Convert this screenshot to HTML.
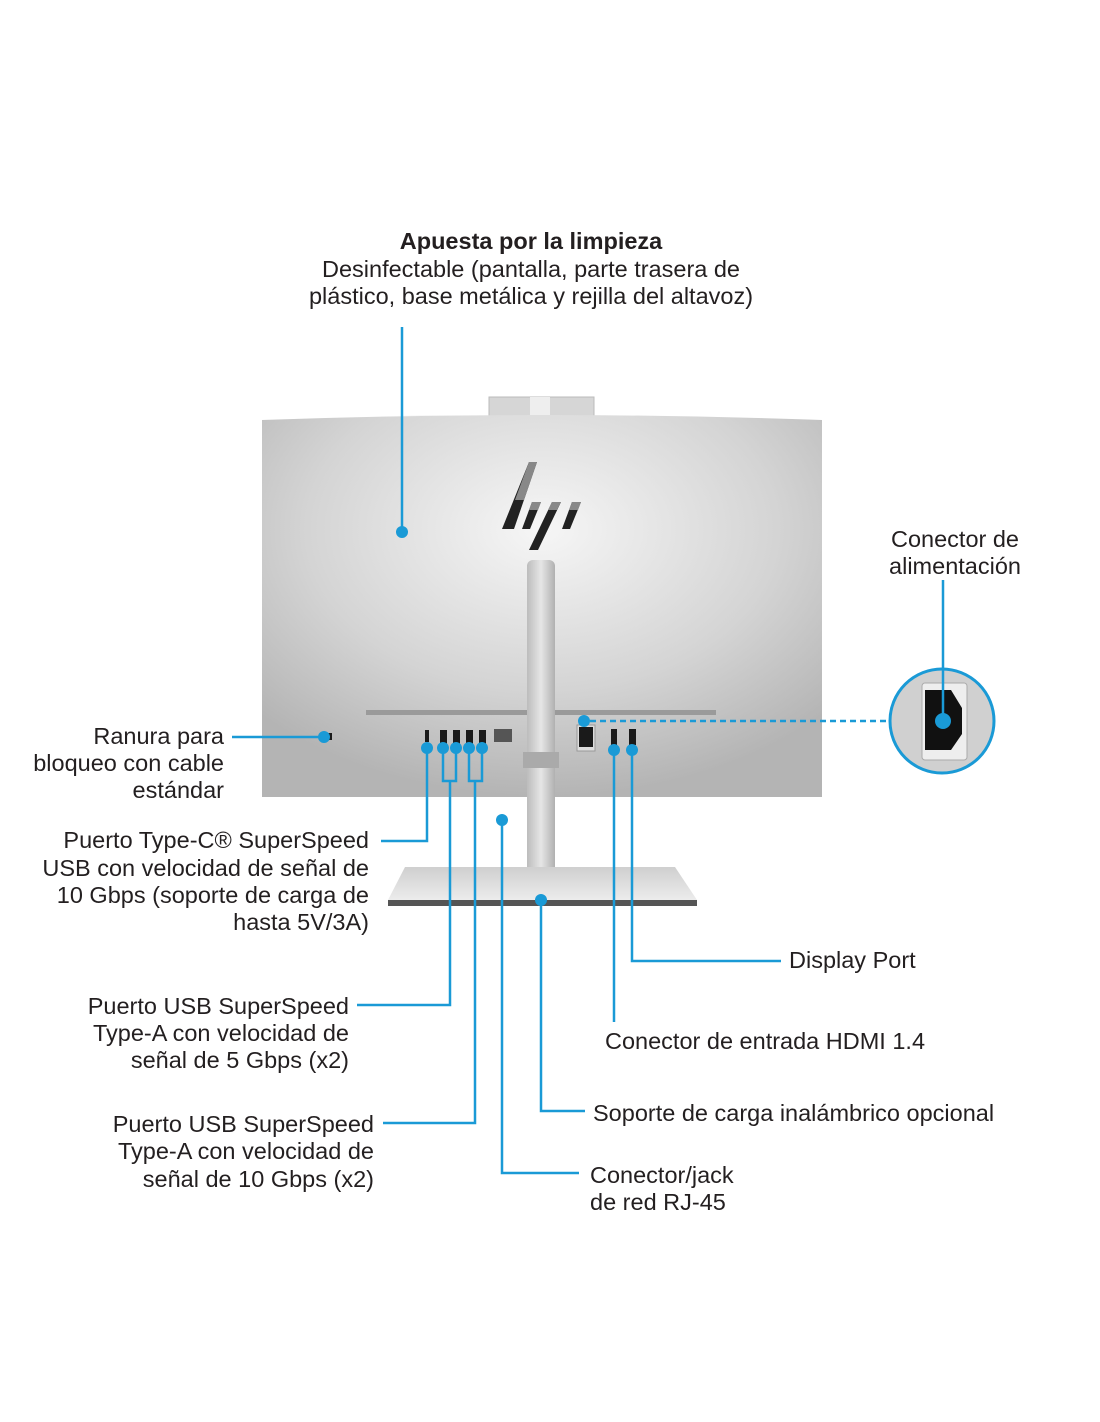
<!DOCTYPE html>
<html><head><meta charset="utf-8"><style>
html,body{margin:0;padding:0;background:#fff}
body{width:1100px;height:1422px;position:relative;overflow:hidden;font-family:"Liberation Sans",sans-serif;color:#231f20}
svg{position:absolute;left:0;top:0}
text{font-family:"Liberation Sans",sans-serif;font-size:23.5px;fill:#231f20}
</style></head><body>
<svg width="1100" height="1422" viewBox="0 0 1100 1422">
<defs>
<radialGradient id="mon" cx="0.5" cy="0.3" r="0.7">
<stop offset="0" stop-color="#f6f6f6"/><stop offset="0.6" stop-color="#d4d4d4"/><stop offset="1" stop-color="#b4b4b4"/>
</radialGradient>
<linearGradient id="col" x1="0" x2="1"><stop offset="0" stop-color="#bcbcbc"/><stop offset="0.5" stop-color="#e6e6e6"/><stop offset="1" stop-color="#b0b0b0"/></linearGradient>
<linearGradient id="base" x1="0" y1="0" x2="0" y2="1"><stop offset="0" stop-color="#cfcfcf"/><stop offset="1" stop-color="#ececec"/></linearGradient>
</defs>
<rect x="489" y="397" width="105" height="20" fill="#d6d6d6" stroke="#bbb"/>
<rect x="530" y="397" width="20" height="20" fill="#eee"/>
<path d="M262 420 Q542 410 822 420 L822 797 L262 797 Z" fill="url(#mon)"/>
<rect x="366" y="710" width="350" height="5" fill="#9a9a9a"/>
<g fill="#222">
<polygon points="529,462 537,462 514,529 502,529"/>
<polygon points="532,502 541,502 530,529 522,529"/>
<polygon points="552,502 561,502 538,550 529,550"/>
<polygon points="572,502 581,502 570,529 562,529"/>
</g>
<g fill="#888">
<polygon points="529,462 537,462 524,500 515,500"/>
<polygon points="532,502 541,502 538,510 529,510"/>
<polygon points="552,502 561,502 557,510 548,510"/>
<polygon points="572,502 581,502 578,510 569,510"/>
</g>
<rect x="527" y="560" width="28" height="333" rx="6" fill="url(#col)"/>
<rect x="523" y="752" width="36" height="16" fill="#aaa"/>
<polygon points="405,867 675,867 697,900 388,900" fill="url(#base)"/>
<rect x="388" y="900" width="309" height="6" fill="#555"/>
<g fill="#1a1a1a">
<rect x="425" y="730" width="4" height="12"/>
<rect x="440" y="730" width="7" height="14"/><rect x="453" y="730" width="7" height="14"/>
<rect x="466" y="730" width="7" height="14"/><rect x="479" y="730" width="7" height="14"/>
<rect x="494" y="729" width="18" height="13" fill="#555"/>
<rect x="577" y="725" width="18" height="26" fill="#ddd" stroke="#999"/>
<rect x="579" y="727" width="14" height="20"/>
<rect x="611" y="729" width="6" height="16"/><rect x="629" y="729" width="7" height="16"/>
<rect x="328" y="733" width="4" height="7"/>
</g>
<circle cx="942" cy="721" r="52" fill="#d0d0d0" stroke="#1a9ad6" stroke-width="3"/>
<rect x="922" y="683" width="45" height="77" rx="3" fill="#eee" stroke="#aaa"/>
<path d="M925 690 L951 690 L962 708 L962 734 L951 750 L925 750 Z" fill="#111"/>
<g stroke="#1a9ad6" stroke-width="2.5" fill="none">
<line x1="402" y1="327" x2="402" y2="532"/>
<line x1="232" y1="737" x2="324" y2="737"/>
<polyline points="427,747 427,841 381,841"/>
<polyline points="443,747 443,781 456,781 456,747"/>
<polyline points="450,781 450,1005 357,1005"/>
<polyline points="469,747 469,781 482,781 482,747"/>
<polyline points="475,781 475,1123 383,1123"/>
<polyline points="502,820 502,1173 579,1173"/>
<polyline points="541,900 541,1111 585,1111"/>
<line x1="614" y1="750" x2="614" y2="1022"/>
<polyline points="632,750 632,961 781,961"/>
<line x1="943" y1="580" x2="943" y2="721"/>
<line x1="590" y1="721" x2="888" y2="721" stroke-dasharray="6,4"/>
</g>
<g fill="#1a9ad6">
<circle cx="402" cy="532" r="6"/><circle cx="324" cy="737" r="6"/>
<circle cx="427" cy="748" r="6"/><circle cx="443" cy="748" r="6"/><circle cx="456" cy="748" r="6"/>
<circle cx="469" cy="748" r="6"/><circle cx="482" cy="748" r="6"/>
<circle cx="502" cy="820" r="6"/><circle cx="541" cy="900" r="6"/>
<circle cx="614" cy="750" r="6"/><circle cx="632" cy="750" r="6"/>
<circle cx="584" cy="721" r="6"/><circle cx="943" cy="721" r="8"/>
</g>
<text x="531" y="249" text-anchor="middle" style="font-weight:bold">Apuesta por la limpieza</text>
<text x="531" y="277" text-anchor="middle">Desinfectable (pantalla, parte trasera de</text>
<text x="531" y="304" text-anchor="middle">plástico, base metálica y rejilla del altavoz)</text>
<text x="955" y="547" text-anchor="middle">Conector de</text>
<text x="955" y="574" text-anchor="middle">alimentación</text>
<g text-anchor="end">
<text x="224" y="744">Ranura para</text>
<text x="224" y="771">bloqueo con cable</text>
<text x="224" y="798">estándar</text>
<text x="369" y="848">Puerto Type-C® SuperSpeed</text>
<text x="369" y="876">USB con velocidad de señal de</text>
<text x="369" y="903">10 Gbps (soporte de carga de</text>
<text x="369" y="930">hasta 5V/3A)</text>
<text x="349" y="1014">Puerto USB SuperSpeed</text>
<text x="349" y="1041">Type-A con velocidad de</text>
<text x="349" y="1068">señal de 5 Gbps (x2)</text>
<text x="374" y="1132">Puerto USB SuperSpeed</text>
<text x="374" y="1159">Type-A con velocidad de</text>
<text x="374" y="1187">señal de 10 Gbps (x2)</text>
</g>
<text x="789" y="968">Display Port</text>
<text x="605" y="1049">Conector de entrada HDMI 1.4</text>
<text x="593" y="1121">Soporte de carga inalámbrico opcional</text>
<text x="590" y="1183">Conector/jack</text>
<text x="590" y="1210">de red RJ-45</text>
</svg>
</body></html>
